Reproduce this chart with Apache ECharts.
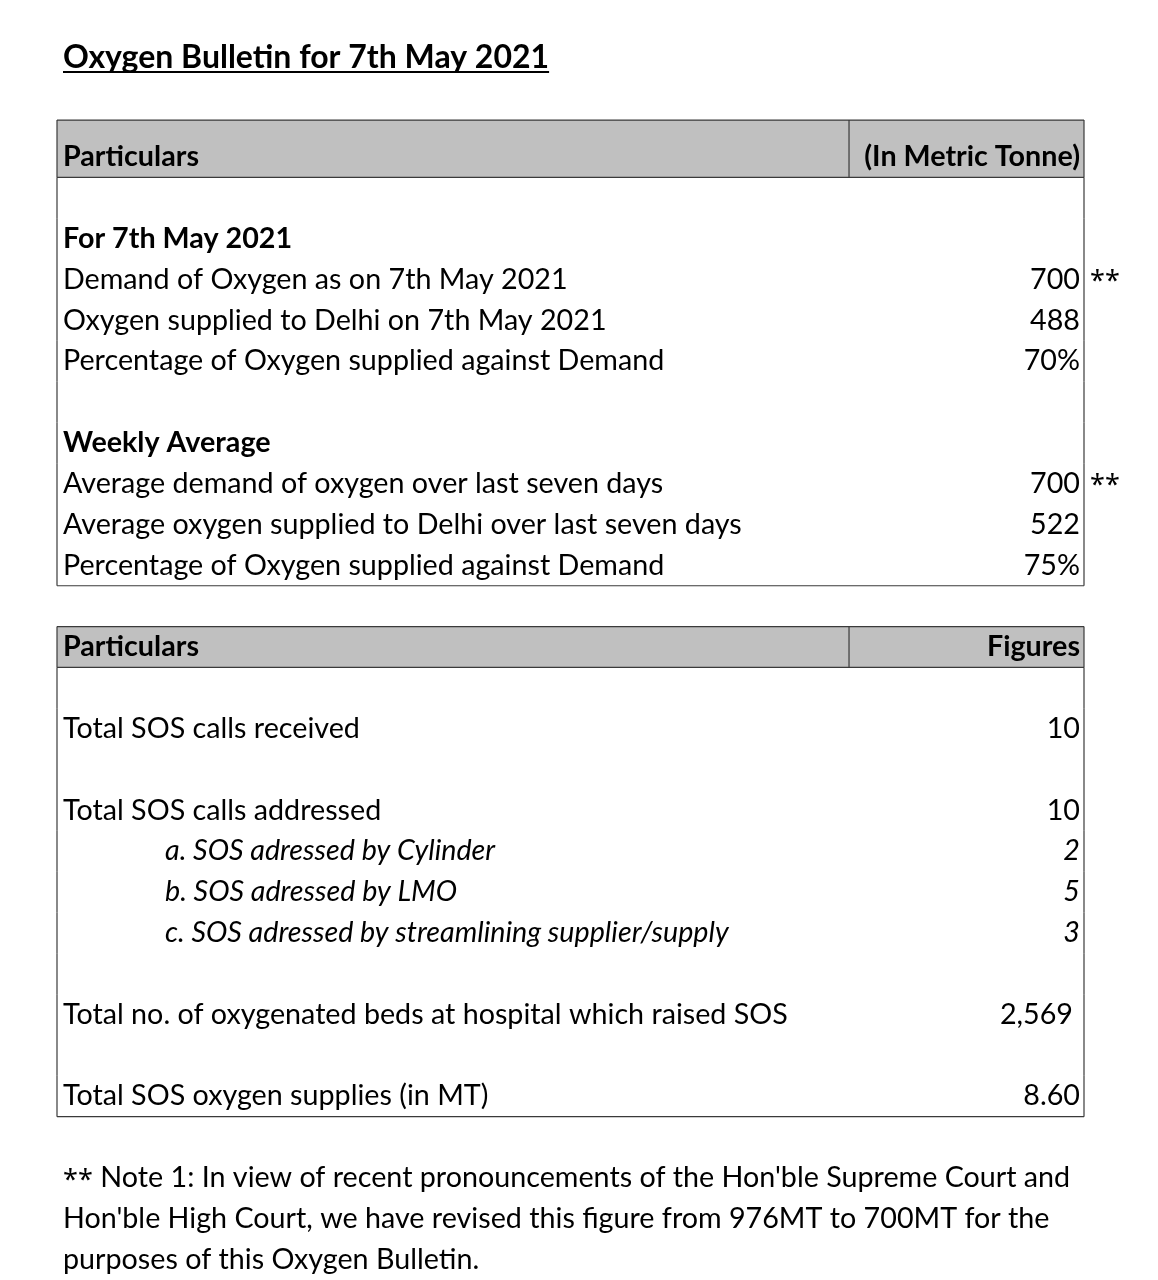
<!DOCTYPE html>
<html><head><meta charset="utf-8">
<script src="https://cdn.jsdelivr.net/npm/echarts@6.0.0/dist/echarts.min.js"></script>
<style>html,body{margin:0;padding:0;background:#fff}#c{width:1158px;height:1280px}</style>
</head><body><div id="c"></div>
<script>
const titleText = 'Oxygen Bulletin for 7th May 2021';
const rowKinds = ['header','blank','section','item','item','item','blank','section','item','item','item','gap',
  'header','blank','item','blank','item','sub','sub','sub','blank','item','blank','item','gap','note','note','note'];
const rowLabels = ['Particulars','','For 7th May 2021','Demand of Oxygen as on 7th May 2021',
  'Oxygen supplied to Delhi on 7th May 2021','Percentage of Oxygen supplied against Demand','',
  'Weekly Average','Average demand of oxygen over last seven days',
  'Average oxygen supplied to Delhi over last seven days','Percentage of Oxygen supplied against Demand','',
  'Particulars','','Total SOS calls received','','Total SOS calls addressed',
  'a. SOS adressed by Cylinder','b. SOS adressed by LMO','c. SOS adressed by streamlining supplier/supply','',
  'Total no. of oxygenated beds at hospital which raised SOS','','Total SOS oxygen supplies (in MT)','',
  "** Note 1: In view of recent pronouncements of the Hon'ble Supreme Court and",
  "Hon'ble High Court, we have revised this figure from 976MT to 700MT for the",
  'purposes of this Oxygen Bulletin.'];
const rowValues = ['(In Metric Tonne)','','','700','488','70%','','','700','522','75%','',
  'Figures','','10','','10','2','5','3','','2,569','','8.60','','','',''];
const rowMarks = ['','','','**','','','','','**','','','','','','','','','','','','','','','','','','',''];

const FONT = 'Lato';
const FS = 28.7;
const TITLE_FS = 32;
const dividerAt = 0.7712;
const STAR_FONT = 'Noto Sans';

function renderItem(params, api) {
  const i = api.value(1);
  const kind = rowKinds[i];
  const p0 = api.coord([0, i]);
  const p1 = api.coord([1, i]);
  const band = api.size([0, 1])[1];
  const xl = p0[0], xr = p1[0], yc = p0[1];
  let top = yc - band / 2;
  const bot = yc + band / 2;
  const children = [];
  const inTable = kind !== 'gap' && kind !== 'note';
  const lineStyle = { stroke: '#3a3a3a', lineWidth: 1.2 };
  if (kind === 'header') {
    if (i === 0) top -= 16.5;
    children.push({ type: 'rect', shape: { x: xl, y: top, width: xr - xl, height: bot - top }, style: { fill: '#c0c0c0' } });
    children.push({ type: 'line', shape: { x1: xl, y1: top, x2: xr, y2: top }, style: lineStyle });
    children.push({ type: 'line', shape: { x1: xl, y1: bot, x2: xr, y2: bot }, style: lineStyle });
    const xd = api.coord([dividerAt, i])[0];
    children.push({ type: 'line', shape: { x1: xd, y1: top, x2: xd, y2: bot }, style: lineStyle });
  }
  if (inTable) {
    children.push({ type: 'line', shape: { x1: xl, y1: top, x2: xl, y2: bot }, style: lineStyle });
    children.push({ type: 'line', shape: { x1: xr, y1: top, x2: xr, y2: bot }, style: lineStyle });
    const nk = rowKinds[i + 1];
    if (nk === undefined || nk === 'gap' || nk === 'note') {
      children.push({ type: 'line', shape: { x1: xl, y1: bot, x2: xr, y2: bot }, style: lineStyle });
    }
  }
  const bold = (kind === 'header' || kind === 'section');
  const italic = kind === 'sub';
  const base = { fontFamily: FONT, fontSize: FS, fontWeight: bold ? 'bold' : 'normal',
    fontStyle: italic ? 'italic' : 'normal', fill: '#000', verticalAlign: 'middle' };
  const label = rowLabels[i];
  if (label) {
    const xt = kind === 'sub' ? xl + 108 : xl + 6;
    if (label.indexOf('**') === 0) {
      children.push({ type: 'text', style: Object.assign({}, base, { fontFamily: STAR_FONT, fontSize: 27, x: xt, y: yc + 3, text: '**', align: 'left' }) });
      children.push({ type: 'text', style: Object.assign({}, base, { x: xt + 30, y: yc, text: label.slice(2), align: 'left' }) });
    } else {
      children.push({ type: 'text', style: Object.assign({}, base, { x: xt, y: yc, text: label, align: 'left' }) });
    }
  }
  const val = rowValues[i];
  if (val) {
    // accounting-style numbers with thousands separators keep a trailing pad
    const pad = val.indexOf(',') >= 0 ? 11 : 4;
    children.push({ type: 'text', style: Object.assign({}, base, { x: xr - pad, y: yc, text: val, align: 'right' }) });
  }
  if (rowMarks[i]) {
    children.push({ type: 'text', style: Object.assign({}, base, { fontFamily: STAR_FONT, fontSize: 27, x: xr + 6, y: yc + 3, text: rowMarks[i], align: 'left' }) });
  }
  return { type: 'group', children };
}

// underline length for the title, measured with the same font
const cv = document.createElement('canvas').getContext('2d');
cv.font = 'bold ' + TITLE_FS + 'px "' + FONT + '"';
const titleW = cv.measureText(titleText).width;

const chart = echarts.init(document.getElementById('c'), null, { renderer: 'canvas' });
chart.setOption({
  animation: false,
  backgroundColor: '#fff',
  grid: { left: 57, right: 74, top: 136.56, height: 28 * 40.889 },
  xAxis: { type: 'value', min: 0, max: 1, show: false },
  yAxis: { type: 'category', inverse: true, show: false, data: rowLabels.map((_, i) => String(i)) },
  graphic: [
    { type: 'text', x: 63, y: 58, style: { text: titleText, fontFamily: FONT, fontSize: TITLE_FS, fontWeight: 'bold', fill: '#000', verticalAlign: 'middle' } },
    { type: 'line', shape: { x1: 63, y1: 72, x2: 63 + titleW, y2: 72 }, style: { stroke: '#000', lineWidth: 2 } }
  ],
  series: [{
    type: 'custom',
    renderItem: renderItem,
    clip: false,
    data: rowLabels.map((_, i) => [0, i]),
    encode: { x: 0, y: 1 }
  }]
});
</script></body></html>
